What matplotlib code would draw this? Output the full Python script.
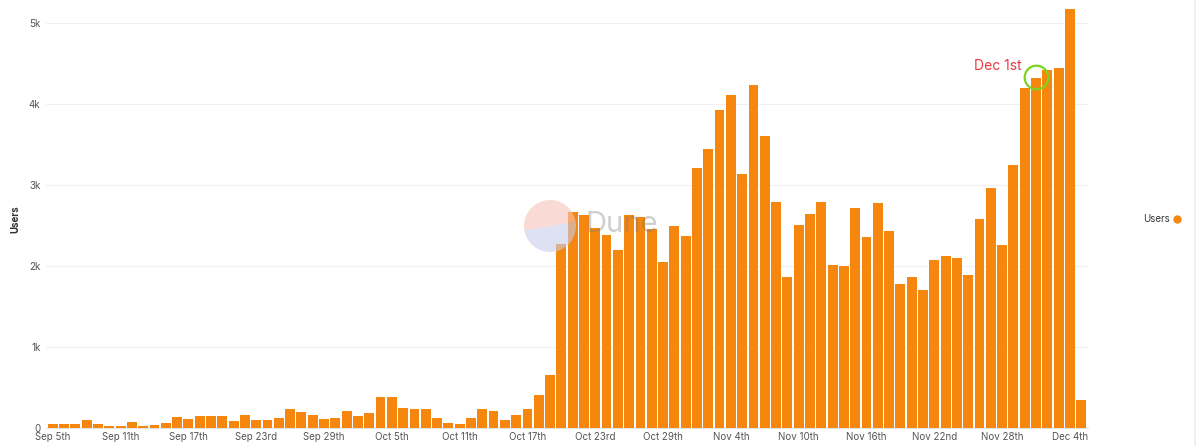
import numpy as np
import pandas as pd
import matplotlib
matplotlib.use("Agg")
import matplotlib.pyplot as plt
from matplotlib.patches import Wedge

plt.rcParams['font.family'] = ['Inter', 'DejaVu Sans']

# daily users, Sep 5th .. Dec 5th
dates = pd.date_range("2023-09-05", "2023-12-05", freq="D")
users = [
    55, 45, 50, 100, 55, 30, 30, 75, 20, 35,          # Sep 5 - Sep 14
    65, 140, 105, 150, 150, 145, 90, 155, 100, 100,   # Sep 15 - Sep 24
    120, 235, 195, 160, 105, 125, 210, 145, 185, 385, # Sep 25 - Oct 4
    385, 245, 240, 240, 120, 65, 45, 125, 230, 210,   # Oct 5 - Oct 14
    100, 160, 240, 410, 660, 2270, 2670, 2630, 2470, 2380,  # Oct 15 - Oct 24
    2200, 2630, 2600, 2460, 2050, 2490, 2370, 3210, 3450, 3930,  # Oct 25 - Nov 3
    4110, 3140, 4230, 3600, 2790, 1865, 2510, 2640, 2790, 2010,  # Nov 4 - Nov 13
    2000, 2720, 2360, 2780, 2430, 1780, 1860, 1700, 2070, 2120,  # Nov 14 - Nov 23
    2100, 1890, 2580, 2960, 2260, 3250, 4200, 4320, 4420, 4440,  # Nov 24 - Dec 3
    5170, 350,                                         # Dec 4 - Dec 5
]

def ordinal(d):
    n = d.day
    if 10 <= n % 100 <= 20:
        suf = "th"
    else:
        suf = {1: "st", 2: "nd", 3: "rd"}.get(n % 10, "th")
    return d.strftime("%b ") + str(n) + suf

tick_idx = list(range(0, len(dates), 6))
tick_labels = [ordinal(dates[i]) for i in tick_idx]
y_ticks = [0, 1000, 2000, 3000, 4000, 5000]
y_labels = ["0", "1k", "2k", "3k", "4k", "5k"]

orange = "#F5870F"

fig = plt.figure(figsize=(11.99, 4.46), dpi=100)
ax = fig.add_axes([46 / 1199, 18 / 446, 1042 / 1199, 426 / 446])

x = np.arange(len(users))
ax.bar(x, users, width=0.87, color=orange, zorder=2)

ax.set_xlim(-0.6, len(users) - 0.4)
ax.set_ylim(0, 5260)
ax.set_xticks(tick_idx)
ax.set_xticklabels(tick_labels)
ax.set_yticks(y_ticks)
ax.set_yticklabels(y_labels)
ax.tick_params(axis="both", length=0, labelsize=7, colors="#555555", pad=3)
ax.tick_params(axis="y", pad=4)
ax.grid(axis="y", color="#f0f0f0", linewidth=0.8, zorder=0)
for s in ax.spines.values():
    s.set_visible(False)
ax.spines["bottom"].set_visible(True)
ax.spines["bottom"].set_color("#dddddd")
ax.spines["bottom"].set_linewidth(0.6)

fig.text(15 / 1199, 1 - 219 / 446, "Users", rotation=90, ha="center", va="center",
         fontsize=7, fontweight="bold", color="#333333")

# legend on the right
fig.text(1170 / 1199, 1 - 219 / 446, "Users", ha="right", va="center",
         fontsize=7, color="#333333")
fig.add_artist(plt.Line2D([1177 / 1199], [1 - 219 / 446], marker="o", markersize=5,
                          color=orange, linestyle="none", transform=fig.transFigure))
fig.add_artist(plt.Line2D([1195 / 1199, 1195 / 1199], [0, 1], color="#eeeeee",
                          linewidth=1.2, transform=fig.transFigure))

# Dec 1st annotation
i_dec1 = list(dates).index(pd.Timestamp("2023-12-01"))
ax.plot([i_dec1], [users[i_dec1] + 20], marker="o", markersize=17, markerfacecolor="none",
        markeredgecolor="#7ED321", markeredgewidth=1.6, linestyle="none", zorder=5)
ax.annotate("Dec 1st", xy=(i_dec1, users[i_dec1]), xytext=(-10, 4),
            textcoords="offset points", ha="right", va="bottom",
            fontsize=10, color="#E8393F", zorder=6)

# faint watermark
wax = fig.add_axes([524 / 1199, 1 - 252 / 446, 52 / 1199, 52 / 446], zorder=10)
wax.set_xlim(-1, 1)
wax.set_ylim(-1, 1)
wax.set_aspect("equal")
wax.axis("off")
wax.patch.set_alpha(0)
wax.add_patch(Wedge((0, 0), 1, 10, 190, facecolor="#f7c2b8", edgecolor="none", alpha=0.6))
wax.add_patch(Wedge((0, 0), 1, 190, 370, facecolor="#c9cdea", edgecolor="none", alpha=0.6))
fig.text(586 / 1199, 1 - 224 / 446, "Dune", ha="left", va="center", fontsize=21,
         color="#777777", alpha=0.35, zorder=11)

fig.savefig("out.png", dpi=100, facecolor="white")
